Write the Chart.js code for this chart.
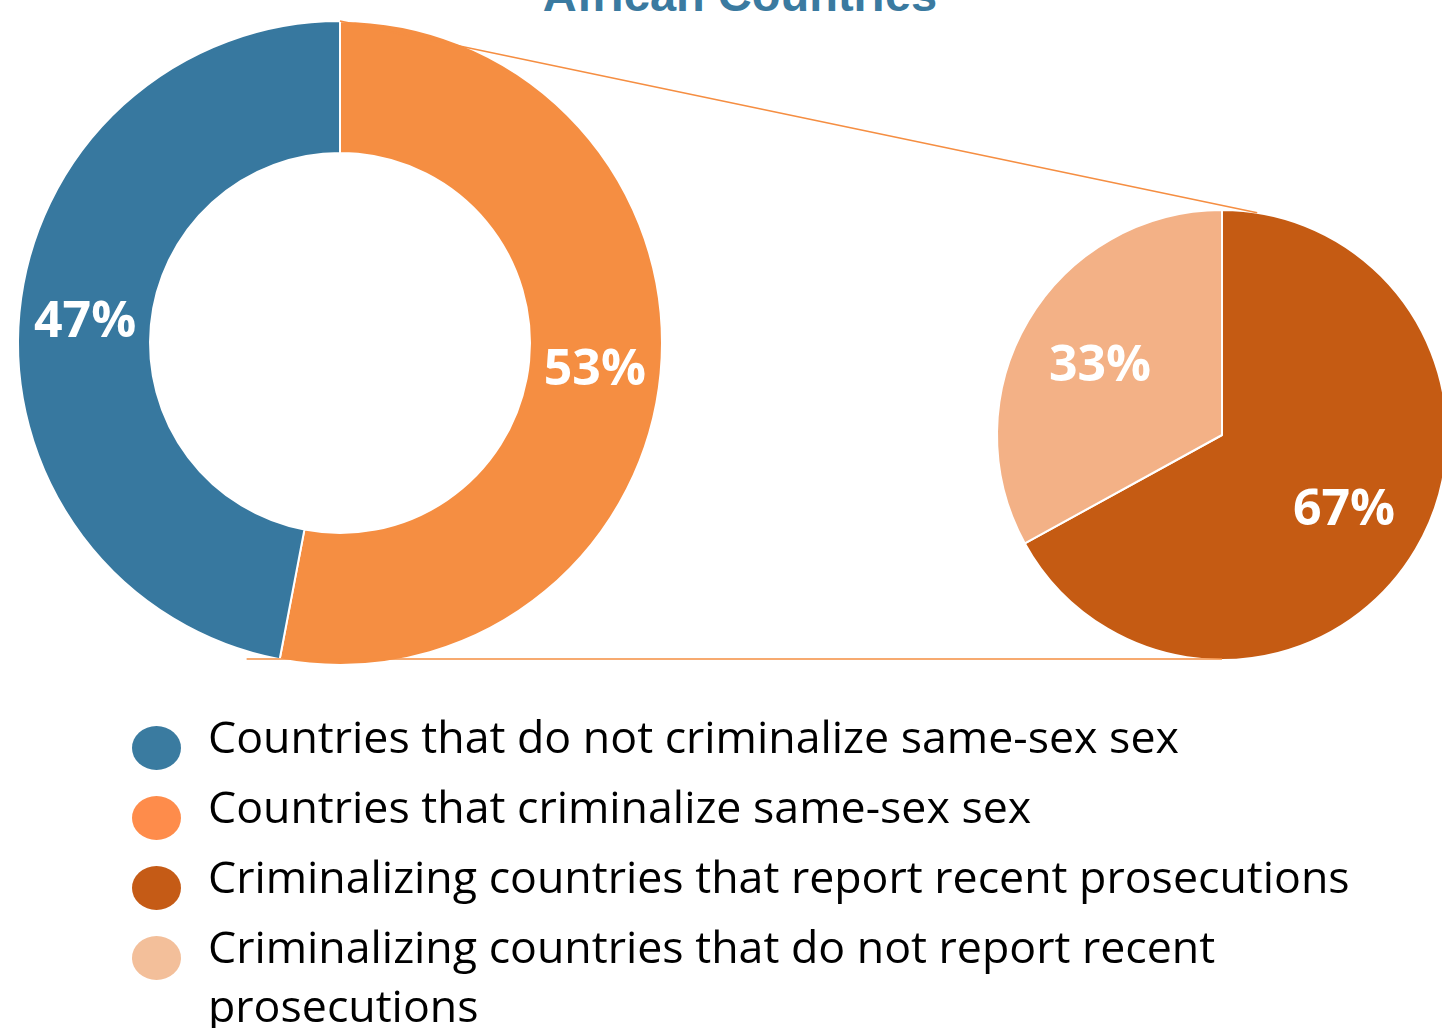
<!DOCTYPE html>
<html>
<head>
<meta charset="utf-8">
<title>African Countries</title>
<script src="https://cdn.jsdelivr.net/npm/chart.js@4.4.1/dist/chart.umd.min.js"></script>
<style>
  html, body {
    margin: 0;
    padding: 0;
    width: 1442px;
    height: 1028px;
    overflow: hidden;
    background: #ffffff;
  }
  .title {
    position: absolute;
    left: 340px;
    top: -29px;
    width: 800px;
    text-align: center;
    font: bold 47px/47px "Liberation Sans", Arial, sans-serif;
    color: #3a7aa0;
  }
  #donut-wrap { position: absolute; left: 0; top: 0; width: 680px; height: 686px; }
  #pie-wrap { position: absolute; left: 982px; top: 195px; width: 480px; height: 480px; }
  #links { position: absolute; left: 0; top: 0; pointer-events: none; }
  .legend {
    position: absolute;
    left: 132px;
    top: 706px;
    margin: 0;
    padding: 0;
    list-style: none;
    font-family: "Open Sans", sans-serif;
    font-size: 44.7px;
    line-height: 59px;
    color: #000;
  }
  .legend li { position: relative; padding-left: 76px; margin-bottom: 11px; width: 1160px; }
  .legend .dot {
    position: absolute;
    left: 0;
    top: 20px;
    width: 49px;
    height: 44px;
    border-radius: 50%;
  }
</style>
</head>
<body>
<div class="title">African Countries</div>
<div id="donut-wrap"><canvas id="donut"></canvas></div>
<div id="pie-wrap"><canvas id="pie"></canvas></div>
<canvas id="links" width="1442" height="1028"></canvas>
<ul class="legend" id="legend"></ul>

<script>
// ─── Data ─────────────────────────────────────────────────────────

// Left donut: all African countries (clockwise from 12 o'clock)
const donutLabels = ["Countries that criminalize same-sex sex", "Countries that do not criminalize same-sex sex"];
const donutValues = [53, 47];
const donutColors = ["#f58e42", "#37789f"];

// Right pie: breakdown of criminalizing countries
const pieLabels = ["Criminalizing countries that report recent prosecutions", "Criminalizing countries that do not report recent prosecutions"];
const pieValues = [67, 33];
const pieColors = ["#c55b13", "#f3b186"];

// Legend entries (in display order)
const legendLabels = [
  "Countries that do not criminalize same-sex sex",
  "Countries that criminalize same-sex sex",
  "Criminalizing countries that report recent prosecutions",
  "Criminalizing countries that do not report recent prosecutions",
];
const legendColors = ["#3a7ba0", "#fe8c4b", "#c55b16", "#f3bf9a"];

// ─── Plugins ──────────────────────────────────────────────────────

// White percentage labels on each slice, centred on the digits
const valueLabels = {
  id: "valueLabels",
  afterDatasetsDraw(chart, args, opts) {
    const { ctx } = chart;
    const meta = chart.getDatasetMeta(0);
    const values = chart.data.datasets[0].data;
    const size = 50;
    ctx.save();
    ctx.font = `bold ${size}px 'Open Sans', sans-serif`;
    ctx.fillStyle = "#ffffff";
    ctx.textAlign = "center";
    ctx.textBaseline = "alphabetic";
    meta.data.forEach((arc, i) => {
      const mid = (arc.startAngle + arc.endAngle) / 2;
      const r = arc.innerRadius + (arc.outerRadius - arc.innerRadius) * opts.ratio;
      const x = arc.x + Math.cos(mid) * r;
      const y = arc.y + Math.sin(mid) * r + size * 0.357;
      ctx.fillText(`${values[i]}%`, x, y);
    });
    ctx.restore();
  },
};

const baseOptions = {
  responsive: true,
  maintainAspectRatio: false,
  animation: false,
  events: [],
  plugins: {
    legend: { display: false },
    tooltip: { enabled: false },
  },
};

// ─── Charts ───────────────────────────────────────────────────────

const donutChart = new Chart(document.getElementById("donut"), {
  type: "doughnut",
  data: {
    labels: donutLabels,
    datasets: [{
      data: donutValues,
      backgroundColor: donutColors,
      borderColor: "#ffffff",
      borderWidth: 2,
    }],
  },
  options: {
    ...baseOptions,
    radius: 322,
    cutout: "59%",
    plugins: { ...baseOptions.plugins, valueLabels: { ratio: 0.5 } },
  },
  plugins: [valueLabels],
});

const pieChart = new Chart(document.getElementById("pie"), {
  type: "pie",
  data: {
    labels: pieLabels,
    datasets: [{
      data: pieValues,
      backgroundColor: pieColors,
      borderColor: "#ffffff",
      borderWidth: 2,
    }],
  },
  options: {
    ...baseOptions,
    radius: 225,
    plugins: { ...baseOptions.plugins, valueLabels: { ratio: 0.63 } },
  },
  plugins: [valueLabels],
});

// ─── Connector lines (donut -> pie) ───────────────────────────────

function drawConnectors() {
  const canvas = document.getElementById("links");
  const ctx = canvas.getContext("2d");
  const dBox = donutChart.canvas.getBoundingClientRect();
  const pBox = pieChart.canvas.getBoundingClientRect();
  const d = donutChart.getDatasetMeta(0).data[0];
  const p = pieChart.getDatasetMeta(0).data[0];

  const dx = dBox.left + d.x;
  const dy = dBox.top + d.y;
  const px = pBox.left + p.x;
  const py = pBox.top + p.y;
  const tilt = (9 * Math.PI) / 180;

  ctx.strokeStyle = "#f58e42";
  ctx.lineWidth = 1.5;
  ctx.beginPath();
  ctx.moveTo(dx, dy - d.outerRadius);
  ctx.lineTo(px + Math.sin(tilt) * p.outerRadius, py - Math.cos(tilt) * p.outerRadius);
  ctx.moveTo(dx - d.outerRadius * 0.29, py + p.outerRadius - 1);
  ctx.lineTo(px, py + p.outerRadius - 1);
  ctx.stroke();
}

drawConnectors();

// ─── Legend ───────────────────────────────────────────────────────

document.getElementById("legend").innerHTML = legendLabels
  .map(
    (label, i) => `
    <li><span class="dot" style="background:${legendColors[i]}"></span>${label}</li>`
  )
  .join("");
</script>
</body>
</html>
